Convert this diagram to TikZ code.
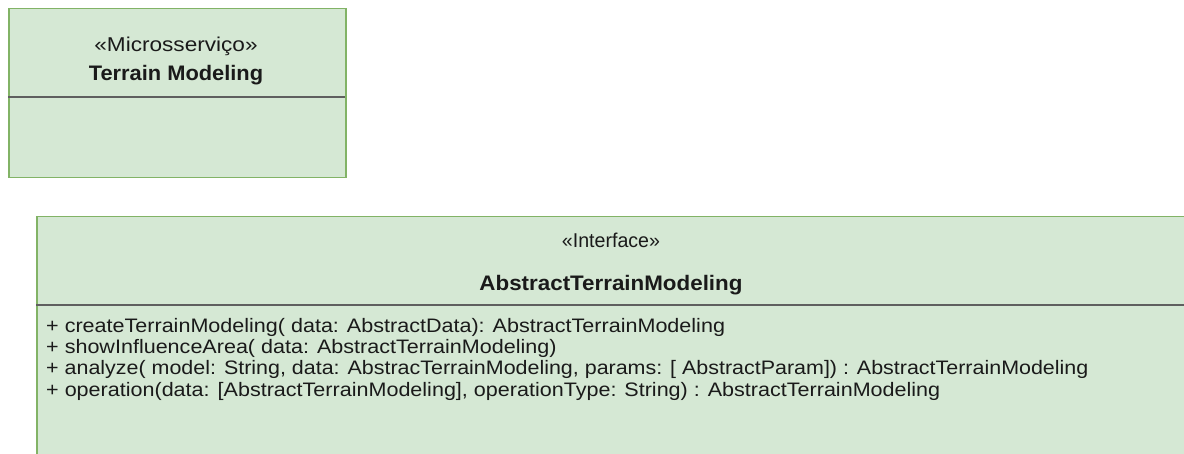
\documentclass[tikz,border=0pt]{standalone}
\usepackage{fontspec}
\usepackage{graphicx}
\setmainfont{Liberation Sans}
\definecolor{boxfill}{HTML}{D5E8D4}
\definecolor{boxline}{HTML}{82B366}
\definecolor{divline}{HTML}{5F5F5F}
\definecolor{txt}{HTML}{1A1A1A}
\newcommand{\wide}[2]{\scalebox{#1}[1]{#2}}
\tikzset{
  umlbox/.style={draw=boxline, fill=boxfill, line width=1.5pt, inner sep=0pt, anchor=north west},
  divider/.style={draw=divline, line width=2.2pt},
  stereo/.style={inner sep=0pt, anchor=base, text=txt, font=\fontsize{20}{24}\selectfont},
  title/.style={inner sep=0pt, anchor=base, text=txt, font=\fontsize{21}{25}\selectfont\bfseries},
  member/.style={inner sep=0pt, anchor=base west, text=txt, font=\fontsize{19.5}{21}\selectfont},
}
\begin{document}
\begin{tikzpicture}[x=1pt,y=-1pt]
\useasboundingbox (0,0) rectangle (1184,454);
\clip (0,0) rectangle (1184,454);
% Microservice box
\node[umlbox, minimum width=337pt, minimum height=169pt] (ms) at (8,8) {};
\coordinate (msdl) at (8,97);
\coordinate (msdr) at (345,97);
\draw[divider] (msdl) -- (msdr);
\node[stereo] (msst) at (176,52) {\wide{1.13}{«Microsserviço»}};
\node[title] (msname) at (176,81) {\wide{1.04}{Terrain Modeling}};
% Interface box
\node[umlbox, minimum width=1150pt, minimum height=260pt] (itf) at (36,216) {};
\coordinate (itdl) at (36,305);
\coordinate (itdr) at (1186,305);
\draw[divider] (itdl) -- (itdr);
\node[stereo] (itst) at (611,248) {\wide{0.98}{«Interface»}};
\node[title] (itname) at (611,291) {\wide{1.065}{AbstractTerrainModeling}};
\node[member] (m1) at (46,333) {\wide{1.105}{+ createTerrainModeling( data: AbstractData): AbstractTerrainModeling}};
\node[member] (m2) at (46,354) {\wide{1.105}{+ showInfluenceArea( data: AbstractTerrainModeling)}};
\node[member] (m3) at (46,375) {\wide{1.10}{+ analyze( model: String, data: AbstracTerrainModeling, params: [ AbstractParam]) : AbstractTerrainModeling}};
\node[member] (m4) at (46,396) {\wide{1.105}{+ operation(data: [AbstractTerrainModeling], operationType: String) : AbstractTerrainModeling}};
\end{tikzpicture}
\end{document}
